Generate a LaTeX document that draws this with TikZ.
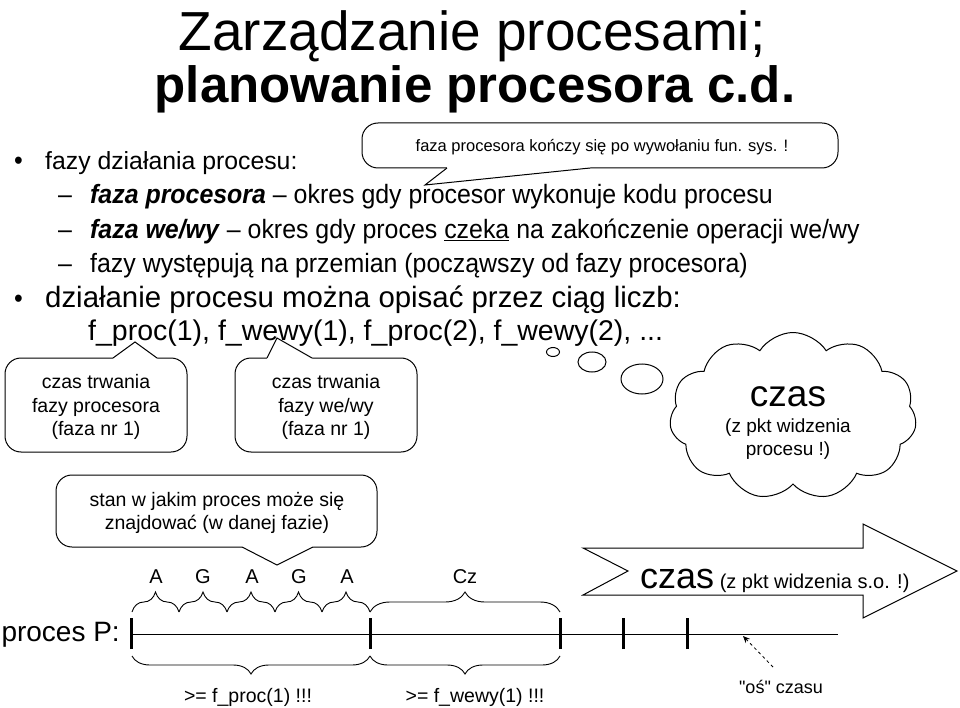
\documentclass[tikz,border=0pt]{standalone}
\usepackage{fontspec}
\setmainfont{Liberation Sans}
\newfontfamily\narrowfont[FakeStretch=0.94]{Liberation Sans}
\newfontfamily\quotefont[Ligatures=TeXOff]{Liberation Sans}
\usetikzlibrary{shapes.symbols,shapes.geometric,decorations.pathreplacing,arrows.meta}
\newcommand\fsz[2]{\fontsize{#1}{#2}\selectfont}
\tikzset{
  outl/.style={line width=1pt, draw=black},
  boxc/.style={outl, fill=white, rounded corners=16pt},
  tick/.style={line width=3pt},
  upbrace/.style={decorate, decoration={brace, amplitude=20pt}, line width=0.9pt},
  downbrace/.style={decorate, decoration={brace, amplitude=18pt, mirror}, line width=0.9pt},
  body/.style={anchor=base west, inner sep=0pt, font=\narrowfont\fsz{26.5}{30}},
  bodyb/.style={anchor=base west, inner sep=0pt, font=\fsz{29.4}{33}},
  ctext/.style={align=center, inner sep=0pt, font=\fsz{19.5}{23.5}},
  lbl/.style={anchor=base, inner sep=0pt, font=\fsz{20}{24}},
  bubble/.style={ellipse, outl, fill=white, inner sep=0pt}
}
\begin{document}
\begin{tikzpicture}[x=1pt,y=-1pt]
\useasboundingbox (0,0) rectangle (960,708);
\fill[white] (0,0) rectangle (960,708);

% title
\node[anchor=base, inner sep=0pt] (t1) at (472,51) {\fsz{55}{60}Zarządzanie procesami;};
\node[anchor=base, inner sep=0pt] (t2) at (475,103) {\fsz{51}{60}\bfseries planowanie procesora c.d.};

% body text
\node[body] (b1) at (14,170) {•};
\node[body, font=\fsz{24.8}{29}] (l1) at (45,170) {fazy działania procesu:};
\node[body] (d1) at (58,204) {–};
\node[body] (l2) at (90,204) {\textbf{\textit{faza procesora}} – okres gdy procesor wykonuje kodu procesu};
\node[body] (d2) at (58,239) {–};
\node[body] (l3) at (90,239) {\textbf{\textit{faza we/wy}} – okres gdy proces \underline{czeka} na zakończenie operacji we/wy};
\node[body] (d3) at (58,273) {–};
\node[body] (l4) at (90,273) {fazy występują na przemian (począwszy od fazy procesora)};
\node[body] (b2) at (14,307) {•};
\node[bodyb] (l5) at (45,307) {działanie procesu można opisać przez ciąg liczb:};
\node[bodyb, font=\fsz{28.5}{33}] (l6) at (88,340) {f\_proc(1), f\_wewy(1), f\_proc(2), f\_wewy(2), ...};

% callout top
\draw[boxc] (362,123) rectangle (838,168);
\fill[white] (447,166) -- (590,166) -- (590,168) -- (425,185) -- (447,168) -- cycle;
\draw[outl] (447,168) -- (425,185) -- (590,168);
\node[inner sep=0pt, font=\fsz{16.5}{20}] (c0) at (602,147) {faza procesora kończy się po wywołaniu fun. sys. !};

% callout czas trwania fazy procesora
\draw[boxc] (5,358) rectangle (187,452);
\fill[white] (113,360) -- (157,360) -- (157,358) -- (135,342) -- (113,358) -- cycle;
\draw[outl] (113,358) -- (135,342) -- (157,358);
\node[ctext] (c1) at (96,407) {czas trwania\\fazy procesora\\(faza nr 1)};

% callout czas trwania fazy we/wy
\draw[boxc] (235,358) rectangle (417,452);
\fill[white] (267,360) -- (312,360) -- (312,358) -- (277,338) -- (267,358) -- cycle;
\draw[outl] (267,358) -- (277,338) -- (312,358);
\node[ctext] (c2) at (326,407) {czas trwania\\fazy we/wy\\(faza nr 1)};

% callout stan
\draw[boxc] (56,475) rectangle (377,547);
\fill[white] (242,545) -- (313,545) -- (313,547) -- (277,565) -- (242,547) -- cycle;
\draw[outl] (242,547) -- (277,565) -- (313,547);
\node[ctext] (c3) at (217,513) {stan w jakim proces może się\\znajdować (w danej fazie)};

% thought cloud
\node[bubble, minimum width=13pt, minimum height=9pt] (e0) at (553,352) {};
\node[bubble, minimum width=28pt, minimum height=20pt] (e1) at (592,362) {};
\node[bubble, minimum width=42pt, minimum height=30pt] (e2) at (642,379) {};
\node[cloud, outl, fill=white, cloud puffs=11, cloud puff arc=115, aspect=1.5,
      minimum width=247pt, minimum height=167pt, inner sep=0pt] (cl) at (793,416) {};
\node[inner sep=0pt, font=\fsz{37}{40}] (cz) at (788,397) {czas};
\node[inner sep=0pt, align=center, font=\fsz{19}{23}] (czs) at (788,439) {(z pkt widzenia\\procesu !)};

% block arrow
\draw[outl, fill=white] (583,548) -- (863,548) -- (863,524) -- (957,571) -- (863,618)
   -- (863,595) -- (583,595) -- (628,571) -- cycle;
\node[anchor=base west, inner sep=0pt] (ba) at (640,588) {\fsz{36}{40}czas\fsz{20}{24} (z pkt widzenia s.o. !)};

% time line
\node[anchor=east, inner sep=0pt, font=\fsz{28}{30}] (pp) at (120,635) {proces P:};
\coordinate (p0) at (131,634);
\coordinate (p1) at (370,634);
\coordinate (p2) at (560,634);
\coordinate (p3) at (623,634);
\coordinate (p4) at (687,634);
\coordinate (pe) at (838,634);
\draw[line width=1pt] (p0) -- (pe);
\foreach \p in {p0,p1,p2,p3,p4} \draw[tick] ([yshift=-15pt]\p) -- ([yshift=16pt]\p);

% upper braces
\coordinate (s0) at (132,612);
\coordinate (s1) at (179,612);
\coordinate (s2) at (227,612);
\coordinate (s3) at (275,612);
\coordinate (s4) at (322,612);
\coordinate (s5) at (370,612);
\coordinate (s6) at (560,612);
\draw[upbrace] (s0) -- (s1);
\draw[upbrace] (s1) -- (s2);
\draw[upbrace] (s2) -- (s3);
\draw[upbrace] (s3) -- (s4);
\draw[upbrace] (s4) -- (s5);
\draw[upbrace] (s5) -- (s6);
\node[lbl] (a1) at (156,583) {A};
\node[lbl] (g1) at (203,583) {G};
\node[lbl] (a2) at (252,583) {A};
\node[lbl] (g2) at (299,583) {G};
\node[lbl] (a3) at (347,583) {A};
\node[lbl] (cz1) at (465,583) {Cz};

% lower braces
\coordinate (u0) at (132,656);
\coordinate (u1) at (370,656);
\coordinate (u2) at (560,656);
\draw[downbrace] (u0) -- (u1);
\draw[downbrace] (u1) -- (u2);
\node[lbl, font=\fsz{19.5}{23}] (f1) at (248,702) {>= f\_proc(1) !!!};
\node[lbl, font=\fsz{19.5}{23}] (f2) at (475,702) {>= f\_wewy(1) !!!};

% os czasu
\node[anchor=base, inner sep=0pt, font=\quotefont\fsz{18}{22}] (os) at (781,693) {"oś" czasu};
\coordinate (osa) at (773,667);
\coordinate (ost) at (743,636);
\draw[dashed, line width=0.8pt, -{Stealth[length=7pt,width=6pt]}] (osa) -- (ost);
\end{tikzpicture}
\end{document}
